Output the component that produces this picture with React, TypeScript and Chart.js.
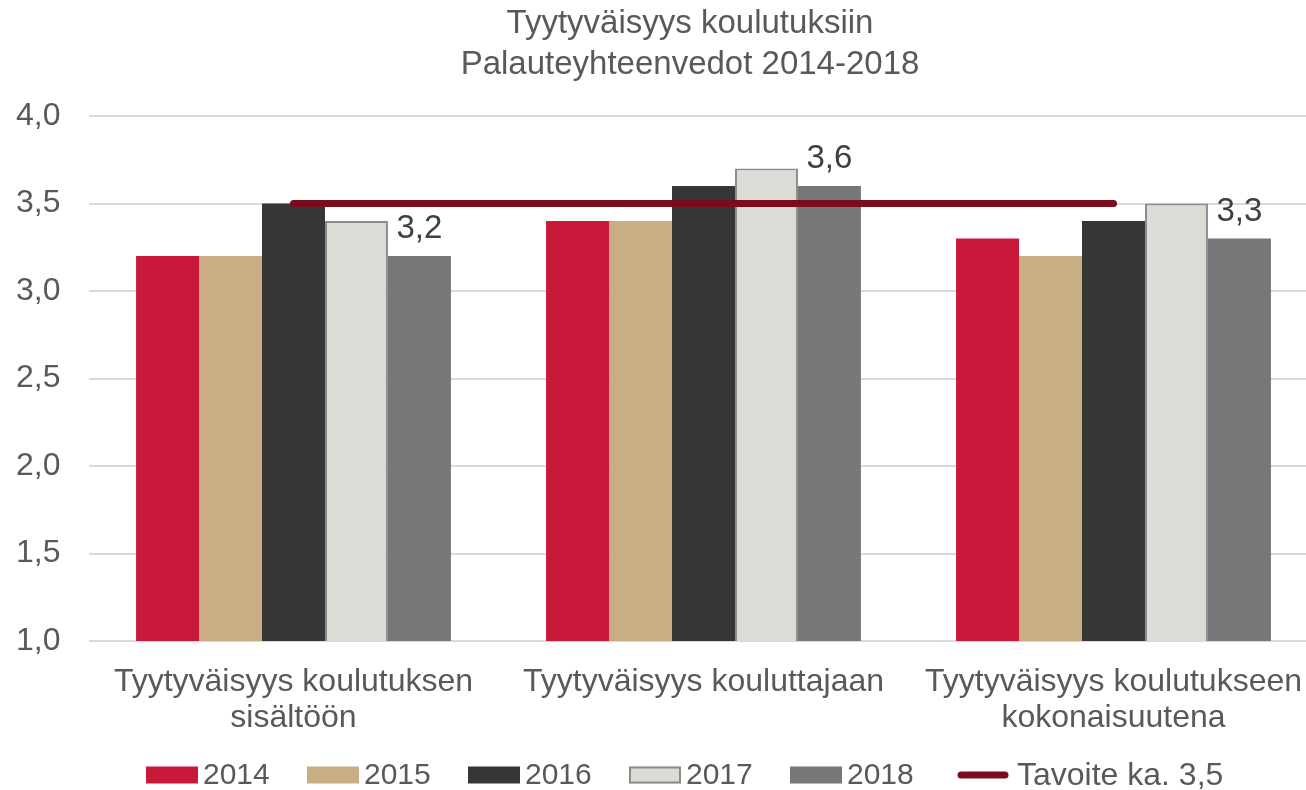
import React, { useEffect, useRef } from "react";
import { Chart, registerables } from "chart.js";

Chart.register(...registerables);

const titleLines = ["Tyytyväisyys koulutuksiin", "Palauteyhteenvedot 2014-2018"];
const categories = [
  ["Tyytyväisyys koulutuksen", "sisältöön"],
  ["Tyytyväisyys kouluttajaan"],
  ["Tyytyväisyys koulutukseen", "kokonaisuutena"],
];
const years = ["2014", "2015", "2016", "2017", "2018"];
const values2014 = [3.2, 3.4, 3.3];
const values2015 = [3.2, 3.4, 3.2];
const values2016 = [3.5, 3.6, 3.4];
const values2017 = [3.4, 3.7, 3.5];
const values2018 = [3.2, 3.6, 3.3];
const targetLabel = "Tavoite ka. 3,5";
const targetValues = [3.5, 3.5, 3.5];
const labeledSeries = "2018";

const FONT = "'Liberation Sans', Arial, sans-serif";
const TEXT = "#595959";
const FRAME_CENTER = 690;

const fmt = (v: number) => v.toFixed(1).replace(".", ",");

const titlePlugin = {
  id: "customTitle",
  afterDraw(chart: any) {
    const ctx = chart.ctx;
    ctx.save();
    ctx.fillStyle = TEXT;
    ctx.font = `33px ${FONT}`;
    ctx.textAlign = "center";
    ctx.textBaseline = "middle";
    ctx.fillText(titleLines[0], FRAME_CENTER, 24);
    ctx.fillText(titleLines[1], FRAME_CENTER, 65);
    ctx.restore();
  },
};

const labelPlugin = {
  id: "barLabels",
  afterDatasetsDraw(chart: any) {
    const ctx = chart.ctx;
    chart.data.datasets.forEach((ds: any, i: number) => {
      if (ds.label !== labeledSeries) return;
      const meta = chart.getDatasetMeta(i);
      meta.data.forEach((el: any, j: number) => {
        ctx.save();
        ctx.fillStyle = "#404040";
        ctx.font = `33px ${FONT}`;
        ctx.textAlign = "center";
        ctx.textBaseline = "middle";
        ctx.fillText(fmt(ds.data[j]), el.x, el.y - 27);
        ctx.restore();
      });
    });
  },
};

const legendPlugin = {
  id: "customLegend",
  afterDraw(chart: any) {
    const ctx = chart.ctx;
    ctx.save();
    ctx.font = `30px ${FONT}`;
    const boxW = 52;
    const boxH = 17;
    const gapText = 5;
    const pitch = 161;
    const lineOffset = 809;
    const start = FRAME_CENTER - 544;
    const cy = 775;
    chart.data.datasets.forEach((ds: any, i: number) => {
      const x = ds.type === "line" ? start + lineOffset : start + i * pitch;
      if (ds.type === "line") {
        ctx.strokeStyle = ds.borderColor;
        ctx.lineWidth = 7;
        ctx.lineCap = "round";
        ctx.beginPath();
        ctx.moveTo(x + 6, cy);
        ctx.lineTo(x + boxW - 2, cy);
        ctx.stroke();
      } else {
        ctx.fillStyle = ds.backgroundColor;
        ctx.fillRect(x, cy - boxH / 2, boxW, boxH);
        if (ds.borderWidth) {
          ctx.strokeStyle = ds.borderColor;
          ctx.lineWidth = 2;
          ctx.strokeRect(x + 1, cy - boxH / 2 + 1, boxW - 2, boxH - 2);
        }
      }
      ctx.fillStyle = TEXT;
      ctx.textAlign = "left";
      ctx.textBaseline = "middle";
      ctx.font = ds.type === "line" ? `32px ${FONT}` : `30px ${FONT}`;
      ctx.fillText(ds.label, x + boxW + gapText + (ds.type === "line" ? 5 : 0), cy + 1);
    });
    ctx.restore();
  },
};

export default function App() {
  const ref = useRef<HTMLCanvasElement | null>(null);

  useEffect(() => {
    if (!ref.current) return;
    const barCommon = {
      type: "bar" as const,
      categoryPercentage: 0.768,
      barPercentage: 1.0,
      order: 1,
      borderSkipped: "bottom" as const,
    };
    const chart = new Chart(ref.current, {
      type: "bar",
      data: {
        labels: categories as any,
        datasets: [
          { ...barCommon, label: years[0], data: values2014, backgroundColor: "#C8193A" },
          { ...barCommon, label: years[1], data: values2015, backgroundColor: "#C9AE83" },
          { ...barCommon, label: years[2], data: values2016, backgroundColor: "#363636" },
          {
            ...barCommon,
            label: years[3],
            data: values2017,
            backgroundColor: "#DCDBD6",
            borderColor: "#8C8C8C",
            borderWidth: 2,
          },
          { ...barCommon, label: years[4], data: values2018, backgroundColor: "#777777" },
          {
            type: "line" as const,
            label: targetLabel,
            data: targetValues,
            borderColor: "#7B0C1E",
            backgroundColor: "#7B0C1E",
            borderWidth: 7,
            borderCapStyle: "round",
            pointRadius: 0,
            order: 0,
          } as any,
        ],
      },
      options: {
        responsive: false,
        animation: false,
        layout: { padding: { left: 0, right: 11.5, top: 116, bottom: 29 } },
        plugins: {
          legend: { display: false },
          title: { display: false },
          tooltip: { enabled: false },
        },
        scales: {
          x: {
            grid: { display: false, drawTicks: false },
            border: { display: false },
            ticks: {
              color: TEXT,
              font: { family: FONT, size: 32, lineHeight: 1.1 },
              padding: 24,
              maxRotation: 0,
              autoSkip: false,
            },
            afterFit: (scale: any) => {
              scale.height = 120;
            },
          },
          y: {
            min: 1,
            max: 4,
            grid: { color: "#D9D9D9", lineWidth: 2, drawTicks: false },
            border: { display: false },
            ticks: {
              stepSize: 0.5,
              color: TEXT,
              font: { family: FONT, size: 32 },
              padding: 28,
              callback: (v: any) => fmt(Number(v)),
            },
            afterFit: (scale: any) => {
              scale.width = 88.5;
            },
          },
        },
      },
      plugins: [titlePlugin, labelPlugin, legendPlugin],
    });
    return () => chart.destroy();
  }, []);

  return (
    <div
      style={{
        position: "fixed",
        left: 0,
        top: 0,
        width: 1306,
        height: 790,
        overflow: "hidden",
        background: "#fff",
      }}
    >
      <canvas ref={ref} width={1330} height={790} style={{ display: "block" }} />
    </div>
  );
}
